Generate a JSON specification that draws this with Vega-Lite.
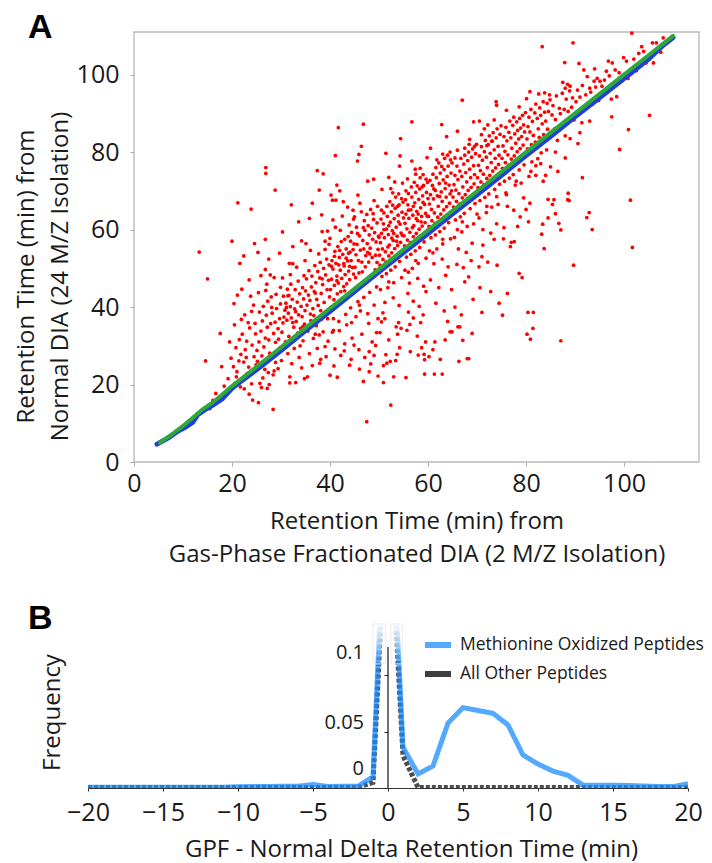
{
  "$schema": "https://vega.github.io/schema/vega-lite/v6.json",
  "background": "white",
  "padding": {"left": 14, "top": 11, "right": 0, "bottom": 14},
  "spacing": 35,
  "resolve": {"scale": {"color": "independent"}, "legend": {"color": "independent"}},
  "config": {
    "font": "Open Sans",
    "view": {"stroke": null},
    "axis": {"labelFont": "Open Sans", "titleFont": "Open Sans", "labelColor": "#1a1a1a", "titleColor": "#1a1a1a", "titleFontWeight": "normal", "grid": false}
  },
  "datasets": {
    "scatter": [
      {"gpf":13.3,"dia":54.2},{"gpf":15.0,"dia":47.3},{"gpf":14.6,"dia":26.1},{"gpf":16.7,"dia":17.7},{"gpf":17.6,"dia":16.8},{"gpf":17.9,"dia":24.6},{"gpf":17.6,"dia":33.2},{"gpf":19.5,"dia":31.0},{"gpf":18.4,"dia":19.6},{"gpf":19.2,"dia":21.5},{"gpf":16.1,"dia":15.9},{"gpf":19.8,"dia":26.8},{"gpf":18.9,"dia":17.4},{"gpf":15.5,"dia":13.8},
      {"gpf":20.3,"dia":24.6},{"gpf":21.0,"dia":23.3},{"gpf":20.6,"dia":20.3},{"gpf":21.8,"dia":27.8},{"gpf":22.4,"dia":25.8},{"gpf":23.4,"dia":24.5},{"gpf":23.5,"dia":17.5},{"gpf":24.2,"dia":16.0},{"gpf":25.4,"dia":15.3},{"gpf":21.2,"dia":66.9},{"gpf":23.9,"dia":65.3},{"gpf":20.0,"dia":57.0},{"gpf":22.4,"dia":53.2},{"gpf":21.6,"dia":51.3},{"gpf":24.6,"dia":56.4},{"gpf":20.8,"dia":29.5},{"gpf":21.5,"dia":31.6},{"gpf":22.1,"dia":33.0},{"gpf":22.7,"dia":29.0},{"gpf":23.0,"dia":31.2},{"gpf":23.6,"dia":34.6},{"gpf":24.1,"dia":30.2},{"gpf":24.5,"dia":27.2},{"gpf":24.8,"dia":33.1},{"gpf":20.5,"dia":35.4},{"gpf":21.9,"dia":36.8},{"gpf":22.6,"dia":38.0},{"gpf":23.3,"dia":36.0},{"gpf":24.0,"dia":38.9},{"gpf":24.7,"dia":35.8},{"gpf":20.9,"dia":22.0},{"gpf":22.2,"dia":21.2},{"gpf":23.1,"dia":22.8},{"gpf":24.3,"dia":23.6},{"gpf":21.4,"dia":26.1},{"gpf":22.9,"dia":27.0},{"gpf":24.4,"dia":40.5},{"gpf":23.8,"dia":42.8},{"gpf":22.0,"dia":44.6},{"gpf":20.4,"dia":40.9},{"gpf":21.1,"dia":43.1},{"gpf":23.5,"dia":47.0},{"gpf":24.9,"dia":25.1},{"gpf":22.5,"dia":18.9},{"gpf":24.0,"dia":20.2},{"gpf":21.7,"dia":19.4},
      {"gpf":26.9,"dia":76.0},{"gpf":26.9,"dia":74.5},{"gpf":28.8,"dia":70.2},{"gpf":26.8,"dia":57.5},{"gpf":25.3,"dia":54.1},{"gpf":26.8,"dia":49.7},{"gpf":25.9,"dia":48.1},{"gpf":27.8,"dia":48.3},{"gpf":26.9,"dia":44.3},{"gpf":29.7,"dia":53.9},{"gpf":29.9,"dia":45.1},{"gpf":28.4,"dia":13.6},{"gpf":26.0,"dia":19.2},{"gpf":26.3,"dia":21.7},{"gpf":25.7,"dia":20.3},{"gpf":27.2,"dia":19.0},{"gpf":27.6,"dia":20.0},{"gpf":27.4,"dia":23.1},{"gpf":28.4,"dia":22.5},{"gpf":28.6,"dia":23.5},{"gpf":25.1,"dia":28.8},{"gpf":27.2,"dia":34.8},{"gpf":25.5,"dia":31.0},{"gpf":25.9,"dia":33.8},{"gpf":26.2,"dia":36.4},{"gpf":26.5,"dia":29.7},{"gpf":26.8,"dia":32.0},{"gpf":27.0,"dia":37.9},{"gpf":27.5,"dia":31.5},{"gpf":27.9,"dia":35.7},{"gpf":28.2,"dia":38.4},{"gpf":28.5,"dia":33.2},{"gpf":28.8,"dia":36.1},{"gpf":29.1,"dia":39.6},{"gpf":29.4,"dia":34.4},{"gpf":29.7,"dia":37.0},{"gpf":29.9,"dia":40.8},{"gpf":25.6,"dia":38.7},{"gpf":26.4,"dia":40.2},{"gpf":27.3,"dia":41.5},{"gpf":28.0,"dia":42.6},{"gpf":28.9,"dia":30.9},{"gpf":29.5,"dia":31.7},{"gpf":25.2,"dia":26.0},{"gpf":26.1,"dia":27.4},{"gpf":27.7,"dia":28.1},{"gpf":28.3,"dia":27.5},{"gpf":29.2,"dia":28.6},{"gpf":29.8,"dia":29.5},{"gpf":25.8,"dia":24.5},{"gpf":26.7,"dia":23.9},{"gpf":28.9,"dia":25.7},{"gpf":29.4,"dia":24.1},{"gpf":27.1,"dia":45.9},{"gpf":28.6,"dia":47.6},{"gpf":25.4,"dia":43.7},{"gpf":29.0,"dia":43.3},{"gpf":27.5,"dia":52.4},{"gpf":28.1,"dia":39.9},
      {"gpf":30.1,"dia":26.2},{"gpf":31.8,"dia":20.4},{"gpf":31.8,"dia":22.0},{"gpf":33.0,"dia":20.5},{"gpf":34.8,"dia":21.5},{"gpf":30.3,"dia":59.4},{"gpf":31.7,"dia":51.3},{"gpf":32.4,"dia":51.2},{"gpf":31.4,"dia":42.9},{"gpf":31.6,"dia":43.0},{"gpf":32.4,"dia":55.6},{"gpf":34.2,"dia":57.1},{"gpf":30.6,"dia":37.4},{"gpf":32.6,"dia":34.8},{"gpf":30.2,"dia":33.5},{"gpf":30.4,"dia":35.9},{"gpf":30.8,"dia":39.2},{"gpf":31.0,"dia":41.0},{"gpf":31.2,"dia":36.6},{"gpf":31.5,"dia":38.4},{"gpf":31.9,"dia":40.1},{"gpf":32.1,"dia":37.2},{"gpf":32.3,"dia":42.0},{"gpf":32.8,"dia":39.5},{"gpf":33.1,"dia":36.3},{"gpf":33.3,"dia":41.3},{"gpf":33.6,"dia":38.0},{"gpf":33.8,"dia":43.4},{"gpf":34.1,"dia":40.2},{"gpf":34.3,"dia":37.5},{"gpf":34.6,"dia":42.1},{"gpf":34.9,"dia":39.1},{"gpf":30.5,"dia":42.8},{"gpf":31.3,"dia":44.6},{"gpf":32.0,"dia":45.9},{"gpf":32.9,"dia":44.5},{"gpf":33.5,"dia":46.7},{"gpf":34.4,"dia":45.0},{"gpf":34.7,"dia":48.1},{"gpf":30.9,"dia":31.0},{"gpf":31.6,"dia":32.4},{"gpf":32.5,"dia":31.9},{"gpf":33.4,"dia":33.3},{"gpf":34.0,"dia":34.5},{"gpf":34.8,"dia":35.6},{"gpf":30.7,"dia":29.6},{"gpf":31.4,"dia":28.0},{"gpf":32.7,"dia":29.3},{"gpf":33.9,"dia":30.0},{"gpf":34.5,"dia":31.3},{"gpf":32.2,"dia":25.4},{"gpf":33.7,"dia":27.0},{"gpf":34.2,"dia":24.3},{"gpf":30.3,"dia":47.5},{"gpf":31.9,"dia":48.4},{"gpf":33.2,"dia":50.3},{"gpf":34.9,"dia":52.0},{"gpf":33.6,"dia":62.0},{"gpf":32.1,"dia":66.4},{"gpf":34.5,"dia":35.0},{"gpf":33.0,"dia":38.8},{"gpf":31.1,"dia":39.9},{"gpf":32.4,"dia":36.0},
      {"gpf":35.1,"dia":56.4},{"gpf":35.8,"dia":62.9},{"gpf":37.4,"dia":75.2},{"gpf":38.6,"dia":74.4},{"gpf":37.8,"dia":70.2},{"gpf":38.4,"dia":59.5},{"gpf":39.5,"dia":59.6},{"gpf":39.0,"dia":57.0},{"gpf":39.8,"dia":56.2},{"gpf":38.1,"dia":39.1},{"gpf":36.0,"dia":38.2},{"gpf":35.4,"dia":22.0},{"gpf":36.4,"dia":24.9},{"gpf":37.9,"dia":25.5},{"gpf":38.1,"dia":26.5},{"gpf":37.0,"dia":33.0},{"gpf":37.8,"dia":32.8},{"gpf":39.0,"dia":29.8},{"gpf":39.6,"dia":31.2},{"gpf":35.3,"dia":40.5},{"gpf":35.6,"dia":43.1},{"gpf":35.9,"dia":41.7},{"gpf":36.2,"dia":45.2},{"gpf":36.5,"dia":39.6},{"gpf":36.8,"dia":44.0},{"gpf":37.1,"dia":46.3},{"gpf":37.3,"dia":42.0},{"gpf":37.6,"dia":40.4},{"gpf":37.9,"dia":47.5},{"gpf":38.2,"dia":43.5},{"gpf":38.5,"dia":45.8},{"gpf":38.8,"dia":41.2},{"gpf":39.1,"dia":48.3},{"gpf":39.4,"dia":44.5},{"gpf":39.7,"dia":46.9},{"gpf":39.9,"dia":42.6},{"gpf":35.2,"dia":47.3},{"gpf":35.7,"dia":49.4},{"gpf":36.3,"dia":48.0},{"gpf":36.9,"dia":50.7},{"gpf":37.5,"dia":49.2},{"gpf":38.0,"dia":51.5},{"gpf":38.7,"dia":50.0},{"gpf":39.3,"dia":52.4},{"gpf":39.8,"dia":50.9},{"gpf":36.1,"dia":36.5},{"gpf":36.7,"dia":37.8},{"gpf":37.2,"dia":35.2},{"gpf":38.3,"dia":36.9},{"gpf":38.9,"dia":38.2},{"gpf":39.5,"dia":37.0},{"gpf":35.5,"dia":33.8},{"gpf":36.6,"dia":31.9},{"gpf":38.6,"dia":33.6},{"gpf":35.8,"dia":28.0},{"gpf":37.4,"dia":29.3},{"gpf":39.2,"dia":27.2},{"gpf":36.0,"dia":54.6},{"gpf":37.7,"dia":53.7},{"gpf":39.0,"dia":54.9},{"gpf":38.3,"dia":63.8},{"gpf":36.4,"dia":66.8},{"gpf":35.0,"dia":44.2},{"gpf":37.0,"dia":43.6},{"gpf":38.4,"dia":47.3},
      {"gpf":41.1,"dia":79.1},{"gpf":41.7,"dia":86.3},{"gpf":41.4,"dia":71.5},{"gpf":40.2,"dia":68.9},{"gpf":40.5,"dia":67.6},{"gpf":41.2,"dia":67.6},{"gpf":42.0,"dia":70.0},{"gpf":42.7,"dia":67.2},{"gpf":43.6,"dia":65.8},{"gpf":44.7,"dia":65.0},{"gpf":40.0,"dia":22.4},{"gpf":40.8,"dia":24.8},{"gpf":41.5,"dia":21.9},{"gpf":42.2,"dia":27.5},{"gpf":44.0,"dia":25.0},{"gpf":44.3,"dia":26.5},{"gpf":40.5,"dia":33.5},{"gpf":40.7,"dia":34.0},{"gpf":43.0,"dia":30.5},{"gpf":44.5,"dia":32.0},
      {"gpf":40.1,"dia":44.5},{"gpf":40.3,"dia":47.2},{"gpf":40.6,"dia":49.8},{"gpf":40.9,"dia":45.6},{"gpf":41.2,"dia":51.3},{"gpf":41.4,"dia":48.0},{"gpf":41.7,"dia":46.2},{"gpf":41.9,"dia":52.8},{"gpf":42.1,"dia":49.5},{"gpf":42.4,"dia":47.4},{"gpf":42.6,"dia":53.6},{"gpf":42.9,"dia":50.6},{"gpf":43.1,"dia":48.4},{"gpf":43.3,"dia":55.0},{"gpf":43.6,"dia":51.9},{"gpf":43.8,"dia":49.3},{"gpf":44.1,"dia":54.2},{"gpf":44.3,"dia":52.0},{"gpf":44.6,"dia":50.2},{"gpf":44.9,"dia":56.3},{"gpf":40.4,"dia":52.0},{"gpf":41.0,"dia":54.4},{"gpf":41.6,"dia":55.6},{"gpf":42.3,"dia":56.9},{"gpf":43.0,"dia":57.5},{"gpf":43.7,"dia":58.2},{"gpf":44.4,"dia":59.3},{"gpf":40.8,"dia":41.9},{"gpf":41.5,"dia":43.4},{"gpf":42.2,"dia":44.0},{"gpf":42.8,"dia":45.3},{"gpf":43.4,"dia":46.0},{"gpf":44.0,"dia":47.1},{"gpf":44.8,"dia":48.5},{"gpf":40.2,"dia":39.6},{"gpf":41.3,"dia":40.3},{"gpf":42.5,"dia":41.6},{"gpf":43.5,"dia":42.8},{"gpf":44.6,"dia":44.2},{"gpf":40.7,"dia":37.0},{"gpf":41.8,"dia":36.3},{"gpf":43.2,"dia":38.1},{"gpf":44.2,"dia":39.8},{"gpf":40.0,"dia":57.7},{"gpf":41.1,"dia":60.6},{"gpf":42.1,"dia":59.8},{"gpf":43.9,"dia":61.2},{"gpf":44.8,"dia":62.7},{"gpf":42.5,"dia":63.5},{"gpf":40.6,"dia":62.5},{"gpf":41.9,"dia":33.9},{"gpf":43.4,"dia":35.4},{"gpf":44.4,"dia":36.0},{"gpf":42.9,"dia":28.7},{"gpf":41.0,"dia":29.2},{"gpf":44.9,"dia":30.2},{"gpf":40.3,"dia":50.5},{"gpf":41.8,"dia":50.9},{"gpf":43.3,"dia":52.6},{"gpf":44.2,"dia":57.0},{"gpf":42.0,"dia":54.6},{"gpf":43.8,"dia":53.9},{"gpf":44.7,"dia":54.8},{"gpf":40.9,"dia":53.1},{"gpf":42.8,"dia":51.2},{"gpf":44.0,"dia":50.5},{"gpf":41.4,"dia":46.8},{"gpf":43.0,"dia":44.2},
      {"gpf":45.6,"dia":77.7},{"gpf":45.9,"dia":79.4},{"gpf":45.7,"dia":68.9},{"gpf":45.4,"dia":60.6},{"gpf":46.8,"dia":87.2},{"gpf":46.4,"dia":81.5},{"gpf":47.7,"dia":72.5},{"gpf":48.9,"dia":73.0},{"gpf":47.5,"dia":10.4},{"gpf":49.8,"dia":22.2},{"gpf":48.3,"dia":25.3},{"gpf":49.0,"dia":27.5},{"gpf":49.3,"dia":30.1},{"gpf":48.0,"dia":28.5},{"gpf":46.0,"dia":24.0},{"gpf":46.8,"dia":20.8},{"gpf":47.9,"dia":35.8},{"gpf":46.5,"dia":33.0},{"gpf":45.3,"dia":37.5},{"gpf":49.5,"dia":33.4},{"gpf":49.8,"dia":37.0},
      {"gpf":45.1,"dia":50.3},{"gpf":45.3,"dia":53.5},{"gpf":45.5,"dia":56.2},{"gpf":45.8,"dia":52.0},{"gpf":46.0,"dia":58.4},{"gpf":46.2,"dia":54.7},{"gpf":46.5,"dia":51.6},{"gpf":46.7,"dia":57.2},{"gpf":46.9,"dia":55.0},{"gpf":47.1,"dia":59.8},{"gpf":47.3,"dia":53.3},{"gpf":47.6,"dia":56.4},{"gpf":47.8,"dia":61.0},{"gpf":48.0,"dia":58.6},{"gpf":48.2,"dia":55.2},{"gpf":48.5,"dia":60.4},{"gpf":48.7,"dia":57.5},{"gpf":48.9,"dia":62.6},{"gpf":49.1,"dia":59.2},{"gpf":49.4,"dia":56.8},{"gpf":49.6,"dia":61.7},{"gpf":49.9,"dia":58.3},{"gpf":45.2,"dia":47.6},{"gpf":45.9,"dia":48.8},{"gpf":46.6,"dia":49.1},{"gpf":47.2,"dia":50.4},{"gpf":47.9,"dia":51.6},{"gpf":48.6,"dia":52.8},{"gpf":49.3,"dia":53.4},{"gpf":49.8,"dia":54.9},{"gpf":45.4,"dia":44.8},{"gpf":46.3,"dia":45.3},{"gpf":47.4,"dia":46.9},{"gpf":48.4,"dia":48.1},{"gpf":49.2,"dia":49.6},{"gpf":45.7,"dia":41.4},{"gpf":46.9,"dia":42.5},{"gpf":48.1,"dia":43.8},{"gpf":49.5,"dia":45.2},{"gpf":45.0,"dia":63.3},{"gpf":46.4,"dia":64.6},{"gpf":47.5,"dia":63.9},{"gpf":48.3,"dia":65.2},{"gpf":49.7,"dia":66.0},{"gpf":46.1,"dia":66.8},{"gpf":47.0,"dia":62.3},{"gpf":48.8,"dia":64.1},{"gpf":49.0,"dia":67.5},{"gpf":47.7,"dia":54.1},{"gpf":46.8,"dia":60.5},{"gpf":45.6,"dia":59.0},{"gpf":48.1,"dia":53.7},{"gpf":49.6,"dia":51.5},{"gpf":46.2,"dia":39.0},{"gpf":47.7,"dia":38.3},{"gpf":49.0,"dia":40.5},{"gpf":48.6,"dia":31.0},{"gpf":45.9,"dia":29.0},{"gpf":47.1,"dia":27.0},{"gpf":48.0,"dia":23.3},
      {"gpf":50.9,"dia":20.5},{"gpf":52.4,"dia":14.7},{"gpf":50.9,"dia":24.9},{"gpf":51.6,"dia":25.5},{"gpf":52.3,"dia":26.0},{"gpf":53.4,"dia":26.2},{"gpf":51.4,"dia":27.7},{"gpf":53.7,"dia":27.8},{"gpf":53.5,"dia":34.9},{"gpf":54.0,"dia":36.0},{"gpf":53.8,"dia":33.0},{"gpf":54.5,"dia":34.5},{"gpf":50.2,"dia":33.4},{"gpf":50.5,"dia":36.2},{"gpf":51.2,"dia":37.0},{"gpf":51.4,"dia":79.7},{"gpf":54.3,"dia":79.0},{"gpf":54.2,"dia":76.4},{"gpf":54.4,"dia":83.5},{"gpf":52.0,"dia":73.5},{"gpf":53.2,"dia":72.3},{"gpf":54.8,"dia":72.0},{"gpf":50.6,"dia":70.4},{"gpf":52.8,"dia":69.5},
      {"gpf":50.1,"dia":53.4},{"gpf":50.3,"dia":56.6},{"gpf":50.5,"dia":59.0},{"gpf":50.7,"dia":55.0},{"gpf":50.9,"dia":61.5},{"gpf":51.1,"dia":57.9},{"gpf":51.3,"dia":54.3},{"gpf":51.5,"dia":60.1},{"gpf":51.7,"dia":63.4},{"gpf":51.9,"dia":58.7},{"gpf":52.1,"dia":56.0},{"gpf":52.3,"dia":61.9},{"gpf":52.5,"dia":64.6},{"gpf":52.7,"dia":59.7},{"gpf":52.9,"dia":57.2},{"gpf":53.1,"dia":62.8},{"gpf":53.3,"dia":65.5},{"gpf":53.5,"dia":60.6},{"gpf":53.7,"dia":58.3},{"gpf":53.9,"dia":63.7},{"gpf":54.1,"dia":66.4},{"gpf":54.3,"dia":61.4},{"gpf":54.5,"dia":59.1},{"gpf":54.7,"dia":64.5},{"gpf":54.9,"dia":67.1},{"gpf":50.2,"dia":50.8},{"gpf":50.8,"dia":52.3},{"gpf":51.4,"dia":51.6},{"gpf":52.0,"dia":53.2},{"gpf":52.6,"dia":54.0},{"gpf":53.2,"dia":55.1},{"gpf":53.8,"dia":55.9},{"gpf":54.4,"dia":56.7},{"gpf":50.4,"dia":62.7},{"gpf":51.0,"dia":64.3},{"gpf":51.6,"dia":66.0},{"gpf":52.2,"dia":67.2},{"gpf":52.8,"dia":66.3},{"gpf":53.4,"dia":68.4},{"gpf":54.0,"dia":69.2},{"gpf":54.6,"dia":68.0},{"gpf":50.6,"dia":47.9},{"gpf":51.5,"dia":48.6},{"gpf":52.4,"dia":49.5},{"gpf":53.3,"dia":50.4},{"gpf":54.2,"dia":51.8},{"gpf":50.3,"dia":44.5},{"gpf":51.8,"dia":45.0},{"gpf":53.0,"dia":46.3},{"gpf":54.6,"dia":47.6},{"gpf":51.2,"dia":41.2},{"gpf":52.9,"dia":42.4},{"gpf":54.1,"dia":40.4},{"gpf":50.0,"dia":58.0},{"gpf":51.0,"dia":60.0},{"gpf":52.0,"dia":61.0},{"gpf":53.0,"dia":59.0},{"gpf":54.0,"dia":62.0},{"gpf":51.8,"dia":55.5},{"gpf":52.6,"dia":57.8},{"gpf":53.6,"dia":57.0},{"gpf":54.8,"dia":58.5},{"gpf":50.5,"dia":65.0},{"gpf":53.8,"dia":66.0},{"gpf":52.4,"dia":70.6},{"gpf":50.8,"dia":38.5},{"gpf":52.0,"dia":31.5},{"gpf":53.0,"dia":22.0},{"gpf":54.2,"dia":29.5},
      {"gpf":55.5,"dia":21.8},{"gpf":59.3,"dia":22.7},{"gpf":59.3,"dia":26.4},{"gpf":58.0,"dia":27.6},{"gpf":58.7,"dia":29.5},{"gpf":59.2,"dia":27.8},{"gpf":59.5,"dia":31.0},{"gpf":56.0,"dia":38.7},{"gpf":56.3,"dia":35.5},{"gpf":57.0,"dia":37.2},{"gpf":58.5,"dia":36.0},{"gpf":59.0,"dia":38.0},{"gpf":55.7,"dia":34.0},{"gpf":56.7,"dia":87.8},{"gpf":56.7,"dia":77.7},{"gpf":59.8,"dia":78.6},{"gpf":57.5,"dia":74.3},{"gpf":58.4,"dia":75.8},{"gpf":55.8,"dia":73.1},
      {"gpf":55.1,"dia":58.4},{"gpf":55.3,"dia":61.6},{"gpf":55.5,"dia":64.0},{"gpf":55.7,"dia":60.2},{"gpf":55.9,"dia":66.4},{"gpf":56.1,"dia":62.9},{"gpf":56.3,"dia":59.3},{"gpf":56.5,"dia":65.1},{"gpf":56.7,"dia":68.4},{"gpf":56.9,"dia":63.7},{"gpf":57.1,"dia":61.0},{"gpf":57.3,"dia":66.9},{"gpf":57.5,"dia":69.6},{"gpf":57.7,"dia":64.7},{"gpf":57.9,"dia":62.3},{"gpf":58.1,"dia":67.8},{"gpf":58.3,"dia":70.5},{"gpf":58.5,"dia":65.6},{"gpf":58.7,"dia":63.4},{"gpf":58.9,"dia":68.7},{"gpf":59.1,"dia":71.4},{"gpf":59.3,"dia":66.5},{"gpf":59.5,"dia":64.2},{"gpf":59.7,"dia":69.6},{"gpf":59.9,"dia":72.2},{"gpf":55.2,"dia":55.8},{"gpf":55.8,"dia":57.3},{"gpf":56.4,"dia":56.6},{"gpf":57.0,"dia":58.2},{"gpf":57.6,"dia":59.0},{"gpf":58.2,"dia":60.1},{"gpf":58.8,"dia":60.9},{"gpf":59.4,"dia":61.8},{"gpf":55.4,"dia":67.7},{"gpf":56.0,"dia":69.3},{"gpf":56.6,"dia":71.0},{"gpf":57.2,"dia":72.2},{"gpf":57.8,"dia":71.3},{"gpf":58.4,"dia":73.4},{"gpf":59.0,"dia":74.2},{"gpf":59.6,"dia":73.0},{"gpf":55.6,"dia":52.9},{"gpf":56.5,"dia":53.6},{"gpf":57.4,"dia":54.5},{"gpf":58.3,"dia":55.4},{"gpf":59.2,"dia":56.8},{"gpf":55.3,"dia":49.5},{"gpf":56.8,"dia":50.0},{"gpf":58.0,"dia":51.3},{"gpf":59.6,"dia":52.6},{"gpf":56.2,"dia":46.2},{"gpf":57.9,"dia":47.4},{"gpf":59.1,"dia":45.4},{"gpf":55.0,"dia":63.0},{"gpf":56.0,"dia":65.0},{"gpf":57.0,"dia":66.0},{"gpf":58.0,"dia":64.0},{"gpf":59.0,"dia":67.0},{"gpf":56.8,"dia":60.5},{"gpf":57.6,"dia":62.8},{"gpf":58.6,"dia":62.0},{"gpf":59.8,"dia":63.5},{"gpf":55.5,"dia":70.0},{"gpf":58.8,"dia":71.0},{"gpf":57.4,"dia":75.6},{"gpf":55.9,"dia":43.5},{"gpf":57.0,"dia":41.5},{"gpf":58.2,"dia":40.2},{"gpf":59.6,"dia":44.0},{"gpf":56.4,"dia":28.5},{"gpf":57.8,"dia":32.5},
      {"gpf":61.3,"dia":22.7},{"gpf":62.9,"dia":22.7},{"gpf":60.2,"dia":27.2},{"gpf":61.0,"dia":29.0},{"gpf":61.4,"dia":31.0},{"gpf":62.5,"dia":26.5},{"gpf":63.5,"dia":31.5},{"gpf":64.5,"dia":33.6},{"gpf":64.0,"dia":36.3},{"gpf":64.9,"dia":33.6},{"gpf":62.8,"dia":87.1},{"gpf":61.8,"dia":78.0},{"gpf":63.0,"dia":79.5},{"gpf":64.5,"dia":80.0},{"gpf":60.5,"dia":81.0},{"gpf":63.8,"dia":84.0},
      {"gpf":60.1,"dia":63.4},{"gpf":60.3,"dia":66.6},{"gpf":60.5,"dia":69.0},{"gpf":60.7,"dia":65.2},{"gpf":60.9,"dia":71.4},{"gpf":61.1,"dia":67.9},{"gpf":61.3,"dia":64.3},{"gpf":61.5,"dia":70.1},{"gpf":61.7,"dia":73.4},{"gpf":61.9,"dia":68.7},{"gpf":62.1,"dia":66.0},{"gpf":62.3,"dia":71.9},{"gpf":62.5,"dia":74.6},{"gpf":62.7,"dia":69.7},{"gpf":62.9,"dia":67.3},{"gpf":63.1,"dia":72.8},{"gpf":63.3,"dia":75.5},{"gpf":63.5,"dia":70.6},{"gpf":63.7,"dia":68.4},{"gpf":63.9,"dia":73.7},{"gpf":64.1,"dia":76.4},{"gpf":64.3,"dia":71.5},{"gpf":64.5,"dia":69.2},{"gpf":64.7,"dia":74.6},{"gpf":64.9,"dia":77.2},{"gpf":60.2,"dia":60.8},{"gpf":60.8,"dia":62.3},{"gpf":61.4,"dia":61.6},{"gpf":62.0,"dia":63.2},{"gpf":62.6,"dia":64.0},{"gpf":63.2,"dia":65.1},{"gpf":63.8,"dia":65.9},{"gpf":64.4,"dia":66.8},{"gpf":60.4,"dia":72.7},{"gpf":61.0,"dia":74.3},{"gpf":61.6,"dia":76.0},{"gpf":62.2,"dia":77.2},{"gpf":62.8,"dia":76.3},{"gpf":63.4,"dia":78.4},{"gpf":64.0,"dia":79.2},{"gpf":64.6,"dia":78.0},{"gpf":60.6,"dia":57.9},{"gpf":61.5,"dia":58.6},{"gpf":62.4,"dia":59.5},{"gpf":63.3,"dia":60.4},{"gpf":64.2,"dia":61.8},{"gpf":60.3,"dia":54.5},{"gpf":61.8,"dia":55.0},{"gpf":63.0,"dia":56.3},{"gpf":64.6,"dia":57.6},{"gpf":61.2,"dia":51.2},{"gpf":62.9,"dia":52.4},{"gpf":64.1,"dia":50.4},{"gpf":60.5,"dia":47.0},{"gpf":62.2,"dia":45.0},{"gpf":63.6,"dia":48.2},{"gpf":64.8,"dia":44.5},{"gpf":61.6,"dia":41.0},{"gpf":63.3,"dia":39.0},{"gpf":60.0,"dia":68.0},{"gpf":61.2,"dia":70.5},{"gpf":62.4,"dia":68.5},{"gpf":63.6,"dia":72.0},{"gpf":64.8,"dia":70.0},
      {"gpf":66.0,"dia":85.4},{"gpf":69.3,"dia":87.8},{"gpf":67.0,"dia":93.4},{"gpf":67.5,"dia":81.0},{"gpf":68.4,"dia":82.0},{"gpf":69.5,"dia":81.5},{"gpf":66.1,"dia":34.9},{"gpf":66.5,"dia":34.9},{"gpf":66.3,"dia":26.0},{"gpf":68.0,"dia":26.7},{"gpf":68.3,"dia":26.7},{"gpf":67.1,"dia":31.4},{"gpf":69.0,"dia":33.2},{"gpf":67.5,"dia":46.5},{"gpf":68.3,"dia":47.8},{"gpf":65.5,"dia":40.0},{"gpf":66.8,"dia":38.0},{"gpf":69.2,"dia":42.0},
      {"gpf":65.1,"dia":68.4},{"gpf":65.3,"dia":71.6},{"gpf":65.5,"dia":74.0},{"gpf":65.7,"dia":70.2},{"gpf":65.9,"dia":76.4},{"gpf":66.1,"dia":72.9},{"gpf":66.3,"dia":69.3},{"gpf":66.5,"dia":75.1},{"gpf":66.7,"dia":78.4},{"gpf":66.9,"dia":73.7},{"gpf":67.1,"dia":71.0},{"gpf":67.3,"dia":76.9},{"gpf":67.5,"dia":79.2},{"gpf":67.7,"dia":74.7},{"gpf":67.9,"dia":72.3},{"gpf":68.1,"dia":77.8},{"gpf":68.3,"dia":80.0},{"gpf":68.5,"dia":75.6},{"gpf":68.7,"dia":73.4},{"gpf":68.9,"dia":78.7},{"gpf":69.1,"dia":80.8},{"gpf":69.3,"dia":76.5},{"gpf":69.5,"dia":74.2},{"gpf":69.7,"dia":79.6},{"gpf":69.9,"dia":82.0},{"gpf":65.2,"dia":65.8},{"gpf":65.8,"dia":67.3},{"gpf":66.4,"dia":66.6},{"gpf":67.0,"dia":68.2},{"gpf":67.6,"dia":69.0},{"gpf":68.2,"dia":70.1},{"gpf":68.8,"dia":70.9},{"gpf":69.4,"dia":71.8},{"gpf":65.6,"dia":62.5},{"gpf":66.6,"dia":63.3},{"gpf":67.4,"dia":64.2},{"gpf":68.6,"dia":65.4},{"gpf":69.6,"dia":66.7},{"gpf":65.4,"dia":58.0},{"gpf":66.9,"dia":59.4},{"gpf":68.0,"dia":60.8},{"gpf":69.3,"dia":61.5},{"gpf":66.2,"dia":55.0},{"gpf":67.8,"dia":54.1},{"gpf":69.0,"dia":56.5},{"gpf":65.9,"dia":51.0},{"gpf":67.2,"dia":50.2},{"gpf":68.8,"dia":52.0},{"gpf":66.0,"dia":80.5},{"gpf":68.5,"dia":83.3},{"gpf":65.5,"dia":78.5},{"gpf":67.0,"dia":66.0},{"gpf":69.8,"dia":68.8},
      {"gpf":71.0,"dia":38.6},{"gpf":70.4,"dia":50.4},{"gpf":71.0,"dia":53.0},{"gpf":72.2,"dia":51.6},{"gpf":74.1,"dia":50.8},{"gpf":73.9,"dia":93.0},{"gpf":74.0,"dia":92.1},{"gpf":70.5,"dia":88.0},{"gpf":71.5,"dia":86.0},{"gpf":72.0,"dia":81.7},{"gpf":73.0,"dia":82.8},{"gpf":71.2,"dia":56.0},{"gpf":73.5,"dia":57.5},{"gpf":70.6,"dia":45.0},{"gpf":72.8,"dia":44.0},{"gpf":74.5,"dia":41.0},
      {"gpf":70.1,"dia":73.4},{"gpf":70.3,"dia":76.6},{"gpf":70.5,"dia":79.0},{"gpf":70.7,"dia":75.2},{"gpf":70.9,"dia":81.4},{"gpf":71.1,"dia":77.9},{"gpf":71.3,"dia":74.3},{"gpf":71.5,"dia":80.1},{"gpf":71.7,"dia":83.0},{"gpf":71.9,"dia":78.7},{"gpf":72.1,"dia":76.0},{"gpf":72.3,"dia":81.9},{"gpf":72.5,"dia":84.2},{"gpf":72.7,"dia":79.7},{"gpf":72.9,"dia":77.3},{"gpf":73.1,"dia":82.8},{"gpf":73.3,"dia":85.0},{"gpf":73.5,"dia":80.6},{"gpf":73.7,"dia":78.4},{"gpf":73.9,"dia":83.7},{"gpf":74.1,"dia":86.0},{"gpf":74.3,"dia":81.5},{"gpf":74.5,"dia":79.2},{"gpf":74.7,"dia":84.6},{"gpf":74.9,"dia":86.8},{"gpf":70.2,"dia":70.8},{"gpf":70.8,"dia":72.3},{"gpf":71.4,"dia":71.6},{"gpf":72.0,"dia":73.2},{"gpf":72.6,"dia":74.0},{"gpf":73.2,"dia":75.1},{"gpf":73.8,"dia":75.9},{"gpf":74.4,"dia":76.8},{"gpf":70.6,"dia":67.5},{"gpf":71.6,"dia":68.3},{"gpf":72.4,"dia":69.2},{"gpf":73.6,"dia":70.4},{"gpf":74.6,"dia":71.7},{"gpf":70.4,"dia":63.0},{"gpf":71.9,"dia":64.4},{"gpf":73.0,"dia":65.8},{"gpf":74.3,"dia":66.5},{"gpf":71.2,"dia":60.0},{"gpf":72.8,"dia":59.1},{"gpf":74.0,"dia":61.5},{"gpf":70.9,"dia":84.5},{"gpf":73.5,"dia":88.3},{"gpf":72.2,"dia":87.0},
      {"gpf":75.2,"dia":37.9},{"gpf":76.2,"dia":43.5},{"gpf":77.0,"dia":56.7},{"gpf":77.6,"dia":56.9},{"gpf":75.4,"dia":57.6},{"gpf":76.8,"dia":55.6},{"gpf":79.2,"dia":47.6},{"gpf":78.6,"dia":48.7},{"gpf":78.8,"dia":63.3},{"gpf":78.3,"dia":60.8},{"gpf":76.0,"dia":90.8},{"gpf":78.6,"dia":91.7},{"gpf":75.5,"dia":60.5},{"gpf":77.5,"dia":65.0},{"gpf":79.5,"dia":68.2},{"gpf":76.2,"dia":66.0},
      {"gpf":75.1,"dia":78.4},{"gpf":75.3,"dia":81.6},{"gpf":75.5,"dia":84.0},{"gpf":75.7,"dia":80.2},{"gpf":75.9,"dia":86.4},{"gpf":76.1,"dia":82.9},{"gpf":76.3,"dia":79.3},{"gpf":76.5,"dia":85.1},{"gpf":76.7,"dia":88.0},{"gpf":76.9,"dia":83.7},{"gpf":77.1,"dia":81.0},{"gpf":77.3,"dia":86.9},{"gpf":77.5,"dia":89.0},{"gpf":77.7,"dia":84.7},{"gpf":77.9,"dia":82.3},{"gpf":78.1,"dia":87.8},{"gpf":78.3,"dia":85.6},{"gpf":78.5,"dia":83.4},{"gpf":78.7,"dia":88.7},{"gpf":78.9,"dia":86.2},{"gpf":79.1,"dia":84.0},{"gpf":79.3,"dia":89.5},{"gpf":79.5,"dia":87.0},{"gpf":79.7,"dia":85.2},{"gpf":79.9,"dia":90.2},{"gpf":75.2,"dia":75.8},{"gpf":75.8,"dia":77.3},{"gpf":76.4,"dia":76.6},{"gpf":77.0,"dia":78.2},{"gpf":77.6,"dia":79.0},{"gpf":78.2,"dia":80.1},{"gpf":78.8,"dia":80.9},{"gpf":79.4,"dia":81.8},{"gpf":75.6,"dia":72.5},{"gpf":76.6,"dia":73.3},{"gpf":77.4,"dia":74.2},{"gpf":78.6,"dia":75.4},{"gpf":79.6,"dia":76.7},{"gpf":75.9,"dia":69.5},{"gpf":77.8,"dia":71.5},{"gpf":79.0,"dia":72.0},
      {"gpf":80.4,"dia":38.6},{"gpf":81.5,"dia":38.6},{"gpf":80.2,"dia":33.0},{"gpf":80.9,"dia":31.7},{"gpf":81.4,"dia":34.5},{"gpf":80.8,"dia":66.8},{"gpf":80.5,"dia":62.0},{"gpf":80.0,"dia":65.2},{"gpf":83.4,"dia":61.4},{"gpf":83.2,"dia":58.8},{"gpf":83.7,"dia":55.1},{"gpf":84.5,"dia":63.0},{"gpf":84.5,"dia":67.8},{"gpf":80.6,"dia":73.7},{"gpf":83.5,"dia":72.5},{"gpf":85.0,"dia":76.2},{"gpf":84.0,"dia":74.0},{"gpf":80.1,"dia":93.8},{"gpf":80.8,"dia":95.6},{"gpf":82.6,"dia":95.0},{"gpf":83.8,"dia":95.3},{"gpf":84.8,"dia":94.8},{"gpf":83.3,"dia":107.2},
      {"gpf":80.2,"dia":83.4},{"gpf":80.4,"dia":86.6},{"gpf":80.6,"dia":89.0},{"gpf":80.8,"dia":85.2},{"gpf":81.0,"dia":91.0},{"gpf":81.3,"dia":87.9},{"gpf":81.5,"dia":84.3},{"gpf":81.8,"dia":90.1},{"gpf":82.0,"dia":92.4},{"gpf":82.3,"dia":88.7},{"gpf":82.5,"dia":86.0},{"gpf":82.8,"dia":91.4},{"gpf":83.0,"dia":89.5},{"gpf":83.3,"dia":87.3},{"gpf":83.5,"dia":93.0},{"gpf":83.8,"dia":90.3},{"gpf":84.0,"dia":88.0},{"gpf":84.3,"dia":92.6},{"gpf":84.6,"dia":90.5},{"gpf":84.9,"dia":93.5},{"gpf":80.3,"dia":80.8},{"gpf":81.1,"dia":81.9},{"gpf":81.9,"dia":82.6},{"gpf":82.7,"dia":83.8},{"gpf":83.6,"dia":84.5},{"gpf":84.4,"dia":85.9},{"gpf":81.2,"dia":77.5},{"gpf":82.4,"dia":78.3},{"gpf":83.1,"dia":79.8},{"gpf":84.2,"dia":80.6},{"gpf":82.0,"dia":74.0},
      {"gpf":87.9,"dia":103.1},{"gpf":89.6,"dia":108.2},{"gpf":88.0,"dia":96.5},{"gpf":88.5,"dia":97.5},{"gpf":87.5,"dia":98.0},{"gpf":89.0,"dia":97.0},{"gpf":85.7,"dia":67.7},{"gpf":85.4,"dia":66.5},{"gpf":86.0,"dia":64.1},{"gpf":86.7,"dia":61.6},{"gpf":87.1,"dia":59.9},{"gpf":88.5,"dia":67.7},{"gpf":88.8,"dia":67.5},{"gpf":88.6,"dia":69.4},{"gpf":89.7,"dia":50.8},{"gpf":87.1,"dia":31.3},{"gpf":86.5,"dia":75.0},{"gpf":88.0,"dia":78.5},{"gpf":85.5,"dia":92.0},{"gpf":86.2,"dia":94.5},{"gpf":86.8,"dia":91.3},{"gpf":87.4,"dia":95.2},{"gpf":88.2,"dia":93.7},{"gpf":88.9,"dia":95.8},{"gpf":89.5,"dia":94.0},{"gpf":85.3,"dia":89.6},{"gpf":86.0,"dia":88.4},{"gpf":87.0,"dia":89.9},{"gpf":87.8,"dia":91.0},{"gpf":88.6,"dia":90.5},{"gpf":89.3,"dia":91.6},{"gpf":85.8,"dia":86.0},{"gpf":87.2,"dia":86.8},{"gpf":88.3,"dia":87.5},{"gpf":89.8,"dia":88.3},{"gpf":86.4,"dia":83.0},{"gpf":88.0,"dia":84.2},
      {"gpf":90.8,"dia":102.9},{"gpf":91.8,"dia":101.2},{"gpf":93.9,"dia":98.3},{"gpf":95.1,"dia":98.3},{"gpf":94.5,"dia":99.0},{"gpf":93.5,"dia":60.0},{"gpf":92.9,"dia":64.4},{"gpf":92.4,"dia":63.1},{"gpf":91.5,"dia":73.4},{"gpf":90.6,"dia":82.2},{"gpf":90.5,"dia":96.0},{"gpf":91.5,"dia":97.2},{"gpf":92.5,"dia":99.5},{"gpf":93.0,"dia":96.5},{"gpf":94.0,"dia":101.5},{"gpf":90.2,"dia":93.0},{"gpf":91.0,"dia":94.2},{"gpf":92.2,"dia":94.8},{"gpf":93.2,"dia":95.5},{"gpf":94.2,"dia":96.8},{"gpf":90.8,"dia":90.5},{"gpf":92.0,"dia":91.5},{"gpf":93.6,"dia":92.4},{"gpf":94.8,"dia":93.3},{"gpf":91.4,"dia":87.6},
      {"gpf":96.8,"dia":103.5},{"gpf":97.6,"dia":103.0},{"gpf":99.9,"dia":104.4},{"gpf":96.4,"dia":100.9},{"gpf":98.5,"dia":94.3},{"gpf":97.4,"dia":93.7},{"gpf":97.5,"dia":89.1},{"gpf":99.1,"dia":80.7},{"gpf":95.5,"dia":97.0},{"gpf":96.0,"dia":98.6},{"gpf":97.0,"dia":99.7},{"gpf":98.2,"dia":101.2},{"gpf":99.0,"dia":100.5},{"gpf":96.5,"dia":95.5},{"gpf":98.0,"dia":97.0},{"gpf":99.5,"dia":98.3},
      {"gpf":101.6,"dia":110.7},{"gpf":103.6,"dia":107.2},{"gpf":105.8,"dia":108.2},{"gpf":106.6,"dia":108.2},{"gpf":106.0,"dia":103.0},{"gpf":107.5,"dia":105.8},{"gpf":105.2,"dia":89.5},{"gpf":100.9,"dia":85.8},{"gpf":101.3,"dia":67.6},{"gpf":101.7,"dia":55.4},{"gpf":100.5,"dia":103.5},{"gpf":102.0,"dia":104.0},{"gpf":103.0,"dia":105.5},{"gpf":104.0,"dia":106.0},{"gpf":108.0,"dia":109.5},{"gpf":100.8,"dia":99.0},{"gpf":102.5,"dia":101.0},{"gpf":104.5,"dia":103.0},{"gpf":101.5,"dia":100.3},
      {"gpf":46.0,"dia":40.5},{"gpf":52.0,"dia":46.5},{"gpf":56.0,"dia":49.0},{"gpf":61.0,"dia":54.0},{"gpf":63.0,"dia":57.5},{"gpf":66.0,"dia":60.0},{"gpf":70.0,"dia":64.0},{"gpf":72.0,"dia":66.0},{"gpf":76.0,"dia":69.0},{"gpf":78.0,"dia":72.5},{"gpf":81.0,"dia":75.0},{"gpf":83.0,"dia":77.0},{"gpf":86.0,"dia":80.0},{"gpf":89.0,"dia":83.5},{"gpf":91.0,"dia":85.0},{"gpf":93.0,"dia":88.0},{"gpf":57.5,"dia":52.0},{"gpf":67.0,"dia":62.0},{"gpf":74.0,"dia":68.5},{"gpf":82.0,"dia":76.5}
    ],
    "unmodified": [
      {"gpf":4.7,"dia":4.6},{"gpf":7,"dia":6.2},{"gpf":9,"dia":8.0},{"gpf":10.5,"dia":9.0},{"gpf":12,"dia":10.3},{"gpf":13,"dia":12.2},{"gpf":14.5,"dia":13.5},{"gpf":16,"dia":14.6},{"gpf":18,"dia":16.3},{"gpf":20,"dia":19.0},{"gpf":22,"dia":21.0},{"gpf":25,"dia":23.8},{"gpf":30,"dia":28.8},{"gpf":35,"dia":33.9},{"gpf":40,"dia":38.9},{"gpf":45,"dia":44.0},{"gpf":50,"dia":49.1},{"gpf":55,"dia":54.1},{"gpf":60,"dia":59.0},{"gpf":65,"dia":64.1},{"gpf":70,"dia":69.0},{"gpf":75,"dia":74.0},{"gpf":80,"dia":79.1},{"gpf":85,"dia":84.0},{"gpf":90,"dia":89.1},{"gpf":95,"dia":94.0},{"gpf":100,"dia":99.0},{"gpf":105,"dia":104.0},{"gpf":108,"dia":107.6},{"gpf":110,"dia":109.6}
    ],
    "fit": [
      {"gpf":5.3,"dia":5.0},{"gpf":8,"dia":7.4},{"gpf":10,"dia":9.3},{"gpf":12,"dia":11.4},{"gpf":14,"dia":13.6},{"gpf":16,"dia":15.3},{"gpf":18,"dia":17.4},{"gpf":20,"dia":19.6},{"gpf":25,"dia":24.6},{"gpf":30,"dia":29.6},{"gpf":40,"dia":39.7},{"gpf":50,"dia":49.8},{"gpf":60,"dia":59.9},{"gpf":70,"dia":69.9},{"gpf":80,"dia":80.0},{"gpf":90,"dia":90.0},{"gpf":100,"dia":100.0},{"gpf":105,"dia":105.0},{"gpf":110,"dia":110.0}
    ],
    "delta": [
      {"delta":-20,"oxidized":0.0005,"other":0.0003},{"delta":-19,"oxidized":0.0005,"other":0.0003},{"delta":-18,"oxidized":0.0005,"other":0.0003},{"delta":-17,"oxidized":0.0005,"other":0.0003},{"delta":-16,"oxidized":0.0005,"other":0.0003},{"delta":-15,"oxidized":0.0005,"other":0.0003},{"delta":-14,"oxidized":0.0005,"other":0.0003},{"delta":-13,"oxidized":0.0005,"other":0.0003},{"delta":-12,"oxidized":0.0005,"other":0.0003},{"delta":-11,"oxidized":0.0005,"other":0.0003},{"delta":-10,"oxidized":0.0008,"other":0.0003},{"delta":-9,"oxidized":0.001,"other":0.0003},{"delta":-8,"oxidized":0.001,"other":0.0003},{"delta":-7,"oxidized":0.0012,"other":0.0003},{"delta":-6,"oxidized":0.0012,"other":0.0003},{"delta":-5,"oxidized":0.0025,"other":0.0003},{"delta":-4,"oxidized":0.001,"other":0.0003},{"delta":-3,"oxidized":0.0012,"other":0.0003},{"delta":-2,"oxidized":0.0012,"other":0.0005},{"delta":-1,"oxidized":0.008,"other":0.004},{"delta":0,"oxidized":0.25,"other":0.22},{"delta":1,"oxidized":0.029,"other":0.023},{"delta":2,"oxidized":0.010,"other":0.0004},{"delta":3,"oxidized":0.0156,"other":0.0003},{"delta":4,"oxidized":0.046,"other":0.0003},{"delta":5,"oxidized":0.057,"other":0.0003},{"delta":6,"oxidized":0.055,"other":0.0003},{"delta":7,"oxidized":0.053,"other":0.0003},{"delta":8,"oxidized":0.0447,"other":0.0003},{"delta":9,"oxidized":0.0234,"other":0.0003},{"delta":10,"oxidized":0.017,"other":0.0003},{"delta":11,"oxidized":0.012,"other":0.0003},{"delta":12,"oxidized":0.009,"other":0.0003},{"delta":13,"oxidized":0.002,"other":0.0003},{"delta":14,"oxidized":0.002,"other":0.0003},{"delta":15,"oxidized":0.002,"other":0.0003},{"delta":16,"oxidized":0.0018,"other":0.0003},{"delta":17,"oxidized":0.0015,"other":0.0003},{"delta":18,"oxidized":0.001,"other":0.0003},{"delta":19,"oxidized":0.001,"other":0.0003},{"delta":20,"oxidized":0.003,"other":0.0003}
    ],
    "single": [{}]
  },
  "vconcat": [
    {
      "title": {"text": "A", "anchor": "start", "frame": "group", "font": "Liberation Sans", "fontSize": 34, "fontWeight": "bold", "color": "#000000", "baseline": "alphabetic", "dx": -60, "dy": 45, "offset": 0},
      "width": 611,
      "height": 430,
      "layer": [
        {
          "data": {"name": "single"},
          "mark": {"type": "rect", "filled": false, "stroke": "#b8b8b8", "strokeWidth": 1.3},
          "encoding": {
            "x": {"datum": 0, "type": "quantitative",
                  "scale": {"domain": [0, 115.3], "range": [46, 611], "nice": false, "zero": false},
                  "axis": {"values": [0, 20, 40, 60, 80, 100], "domain": false, "tickColor": "#a8a8a8", "tickSize": 4, "labelFontSize": 25, "labelPadding": 5, "labelFlush": false,
                           "title": ["Retention Time (min) from", "Gas-Phase Fractionated DIA (2 M/Z Isolation)"], "titleFontSize": 24, "titleLineHeight": 33, "titlePadding": 13}},
            "x2": {"datum": 115.3},
            "y": {"datum": 0, "type": "quantitative",
                  "scale": {"domain": [0, 111], "nice": false, "zero": false},
                  "axis": {"values": [0, 20, 40, 60, 80, 100], "offset": -46, "domain": false, "tickColor": "#a8a8a8", "tickSize": 4, "labelFontSize": 25, "labelPadding": 11, "labelFlush": false,
                           "title": ["Retention Time (min) from", "Normal DIA (24 M/Z Isolation)"], "titleFontSize": 24, "titleLineHeight": 34, "titleY": 244, "titlePadding": 4}},
            "y2": {"datum": 111}
          }
        },
        {
          "data": {"name": "scatter"},
          "mark": {"type": "circle", "size": 14, "color": "#ff0000", "opacity": 1},
          "encoding": {
            "x": {"field": "gpf", "type": "quantitative", "title": ["Retention Time (min) from", "Gas-Phase Fractionated DIA (2 M/Z Isolation)"]},
            "y": {"field": "dia", "type": "quantitative", "title": ["Retention Time (min) from", "Normal DIA (24 M/Z Isolation)"]}
          }
        },
        {
          "data": {"name": "unmodified"},
          "mark": {"type": "line", "color": "#1f3fdc", "strokeWidth": 5, "strokeCap": "round"},
          "encoding": {
            "x": {"field": "gpf", "type": "quantitative", "title": ["Retention Time (min) from", "Gas-Phase Fractionated DIA (2 M/Z Isolation)"]},
            "y": {"field": "dia", "type": "quantitative", "title": ["Retention Time (min) from", "Normal DIA (24 M/Z Isolation)"]}
          }
        },
        {
          "data": {"name": "fit"},
          "mark": {"type": "line", "color": "#2fa83a", "strokeWidth": 4, "strokeCap": "round"},
          "encoding": {
            "x": {"field": "gpf", "type": "quantitative", "title": ["Retention Time (min) from", "Gas-Phase Fractionated DIA (2 M/Z Isolation)"]},
            "y": {"field": "dia", "type": "quantitative", "title": ["Retention Time (min) from", "Normal DIA (24 M/Z Isolation)"]}
          }
        }
      ]
    },
    {
      "title": {"text": "B", "anchor": "start", "frame": "group", "font": "Liberation Sans", "fontSize": 34, "fontWeight": "bold", "color": "#000000", "baseline": "alphabetic", "dx": -60, "dy": 39, "offset": 0},
      "width": 600,
      "height": 164,
      "layer": [
        {
          "data": {"name": "delta"},
          "mark": {"type": "line", "strokeWidth": 5, "strokeDash": [4, 2], "opacity": 0.7, "clip": true},
          "encoding": {
            "x": {"field": "delta", "type": "quantitative",
                  "scale": {"domain": [-20, 20], "nice": false, "zero": false},
                  "axis": {"values": [-20, -15, -10, -5, 0, 5, 10, 15, 20], "labelFlush": false, "domainColor": "#333333", "tickColor": "#333333", "tickSize": 3, "labelFontSize": 25, "labelPadding": 9,
                           "title": "GPF - Normal Delta Retention Time (min)", "titleFontSize": 24, "titlePadding": 12, "titleX": 323, "titleAlign": "center"}},
            "y": {"field": "other", "type": "quantitative",
                  "scale": {"domain": [0, 0.1163], "nice": false, "zero": false},
                  "axis": {"values": [0, 0.01, 0.02, 0.03, 0.04, 0.05, 0.06, 0.07, 0.08, 0.09, 0.1], "offset": -300, "domain": false, "zindex": 1, "labels": false,
                           "tickColor": "#222222", "tickSize": 4,
                           "title": "Frequency", "titleFontSize": 24, "titleX": -324, "titleY": 88}},
            "color": {"datum": "All Other Peptides", "type": "nominal",
                      "scale": {"domain": ["Methionine Oxidized Peptides", "All Other Peptides"], "range": ["#1a8cff", "#000000"]},
                      "legend": {"orient": "none", "legendX": 334, "legendY": 5, "title": null, "symbolType": "stroke", "symbolSize": 676, "symbolStrokeWidth": 6, "symbolOpacity": 1, "symbolDash": [1, 0],
                                 "labelFont": "Open Sans", "labelFontSize": 17.5, "labelColor": "#1a1a1a", "labelOffset": 6, "rowPadding": 1, "padding": 0, "labelLimit": 400}}
          }
        },
        {
          "data": {"name": "delta"},
          "mark": {"type": "line", "strokeWidth": 5, "opacity": 0.75, "clip": true},
          "encoding": {
            "x": {"field": "delta", "type": "quantitative", "title": "GPF - Normal Delta Retention Time (min)"},
            "y": {"field": "oxidized", "type": "quantitative", "title": "Frequency"},
            "color": {"datum": "Methionine Oxidized Peptides", "type": "nominal"}
          }
        },
        {
          "data": {"name": "single"},
          "mark": {"type": "rect", "stroke": "#ececec", "strokeWidth": 1,
                   "fill": {"gradient": "linear", "x1": 0, "y1": 0, "x2": 0, "y2": 1, "stops": [{"offset": 0, "color": "rgba(255,255,255,0.97)"}, {"offset": 0.5, "color": "rgba(255,255,255,0.55)"}, {"offset": 1, "color": "rgba(255,255,255,0)"}]}},
          "encoding": {"x": {"datum": -1.0}, "x2": {"datum": -0.15}, "y": {"datum": 0.088}, "y2": {"datum": 0.1163}}
        },
        {
          "data": {"name": "single"},
          "mark": {"type": "rect", "stroke": "#ececec", "strokeWidth": 1,
                   "fill": {"gradient": "linear", "x1": 0, "y1": 0, "x2": 0, "y2": 1, "stops": [{"offset": 0, "color": "rgba(255,255,255,0.97)"}, {"offset": 0.5, "color": "rgba(255,255,255,0.55)"}, {"offset": 1, "color": "rgba(255,255,255,0)"}]}},
          "encoding": {"x": {"datum": 0.2}, "x2": {"datum": 0.95}, "y": {"datum": 0.088}, "y2": {"datum": 0.1163}}
        },
        {
          "data": {"name": "single"},
          "mark": {"type": "rule", "color": "#111111", "strokeWidth": 1.2},
          "encoding": {"x": {"datum": 0}, "y": {"datum": 0}, "y2": {"datum": 0.1}}
        },
        {
          "data": {"name": "single"},
          "mark": {"type": "text", "text": "0.1", "align": "right", "baseline": "middle", "dx": -24, "dy": 6, "font": "Open Sans", "fontSize": 20, "color": "#1a1a1a"},
          "encoding": {"x": {"datum": 0}, "y": {"datum": 0.1}}
        },
        {
          "data": {"name": "single"},
          "mark": {"type": "text", "text": "0.05", "align": "right", "baseline": "middle", "dx": -24, "dy": 6, "font": "Open Sans", "fontSize": 20, "color": "#1a1a1a"},
          "encoding": {"x": {"datum": 0}, "y": {"datum": 0.05}}
        },
        {
          "data": {"name": "single"},
          "mark": {"type": "text", "text": "0", "align": "right", "baseline": "middle", "dx": -24, "dy": -19, "font": "Open Sans", "fontSize": 20, "color": "#1a1a1a"},
          "encoding": {"x": {"datum": 0}, "y": {"datum": 0}}
        }
      ]
    }
  ]
}
